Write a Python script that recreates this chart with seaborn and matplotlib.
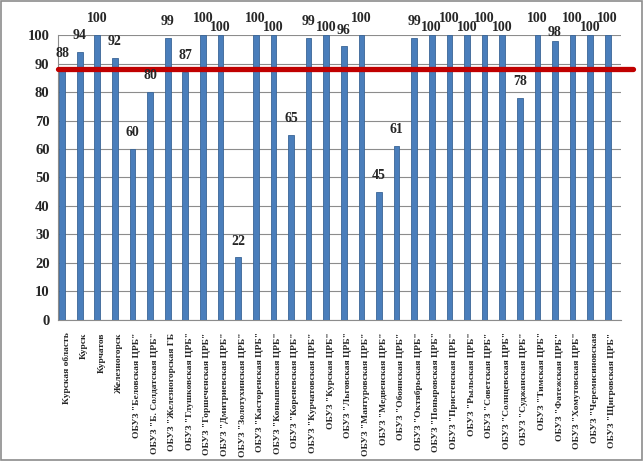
"""
Bar chart: percentage by district of Kursk region, with regional average line
"""
import numpy as np
import pandas as pd
import matplotlib
matplotlib.use("Agg")
import matplotlib.pyplot as plt
import seaborn as sns

# data
districts = [
    'Курская область', 'Курск', 'Курчатов', 'Железногорск',
    'ОБУЗ "Беловская ЦРБ"', 'ОБУЗ "Б. Солдатская ЦРБ"', 'ОБУЗ "Железногорская ГБ',
    'ОБУЗ "Глушковская ЦРБ"', 'ОБУЗ "Горшеченская ЦРБ"', 'ОБУЗ "Дмитриевская ЦРБ"',
    'ОБУЗ "Золотухинская ЦРБ"', 'ОБУЗ "Касторенская ЦРБ"', 'ОБУЗ "Конышевская ЦРБ"',
    'ОБУЗ "Кореневская ЦРБ"', 'ОБУЗ "Курчатовская ЦРБ"', 'ОБУЗ "Курская ЦРБ"',
    'ОБУЗ "Льговская ЦРБ"', 'ОБУЗ "Мантуровская ЦРБ"', 'ОБУЗ "Медвенская ЦРБ"',
    'ОБУЗ "Обоянская ЦРБ"', 'ОБУЗ "Октябрьская ЦРБ"', 'ОБУЗ "Поныровская ЦРБ"',
    'ОБУЗ "Пристенская ЦРБ"', 'ОБУЗ "Рыльская ЦРБ"', 'ОБУЗ "Советская ЦРБ"',
    'ОБУЗ "Солнцевская ЦРБ"', 'ОБУЗ "Суджанская ЦРБ"', 'ОБУЗ "Тимская ЦРБ"',
    'ОБУЗ "Фатежская ЦРБ"', 'ОБУЗ "Хомутовская ЦРБ"', 'ОБУЗ "Черемисиновская',
    'ОБУЗ "Щигровская ЦРБ"',
]
values = [88, 94, 100, 92, 60, 80, 99, 87, 100, 100, 22, 100, 100, 65, 99, 100,
          96, 100, 45, 61, 99, 100, 100, 100, 100, 100, 78, 100, 98, 100, 100, 100]
regional_level = 88
y_ticks = list(range(0, 101, 10))


def draw_chart():
    df = pd.DataFrame({"district": districts, "value": values})

    sns.set_style("white")
    plt.rcParams['font.family'] = ['Liberation Serif', 'DejaVu Serif']
    plt.rcParams['font.weight'] = 'bold'

    fig = plt.figure(figsize=(6.43, 4.61), dpi=100)
    ax = fig.add_axes([0.090, 0.306, 0.876, 0.618])

    sns.barplot(data=df, x="district", y="value", color="#4a7ebb",
                width=0.32, saturation=1, edgecolor="#3a6596", linewidth=0.6,
                ax=ax, zorder=3)

    # Excel puts the bar in the left part of each category slot
    for p in ax.patches:
        p.set_x(p.get_x() - 0.26)

    # value labels above the bars, staggered when neighbours are the same height
    raised = []
    for i, v in enumerate(values):
        up = True
        if i > 0 and abs(values[i - 1] - v) <= 3 and raised[i - 1]:
            up = False
        raised.append(up)
        dy = 7 if up else 1
        ax.annotate(str(v), (i - 0.26, v), xytext=(0, dy), textcoords="offset points",
                    ha="center", va="bottom", fontsize=10, fontweight="bold",
                    annotation_clip=False, zorder=5)

    # regional level line
    ax.axhline(regional_level, xmin=0, xmax=1.021, color="#c00000", lw=3.8,
               zorder=4, clip_on=False)

    ax.set_xlim(-0.5, len(values) - 0.5)
    ax.set_ylim(0, 100)
    ax.set_yticks(y_ticks)
    ax.tick_params(axis="y", labelsize=10.5, length=3, color="#888888", pad=3)
    ax.yaxis.grid(True, color="#8c8c8c", lw=0.8, zorder=0)

    ax.set_xticks(range(len(values)))
    ax.set_xticklabels(districts, rotation=90, fontsize=6.8, fontweight="bold")
    ax.tick_params(axis="x", length=0, pad=9)
    ax.set_xticks(np.arange(len(values)) + 0.5, minor=True)
    ax.tick_params(axis="x", which="minor", length=4, color="#888888")
    ax.set_xlabel("")
    ax.set_ylabel("")

    for side in ["top", "right"]:
        ax.spines[side].set_visible(False)
    for side in ["left", "bottom"]:
        ax.spines[side].set_color("#8c8c8c")

    # grey outer frame
    fig.patches.append(plt.Rectangle((0.002, 0.002), 0.996, 0.996, fill=False,
                                     edgecolor="#8c8c8c", lw=1.2,
                                     transform=fig.transFigure))

    fig.savefig("out.png", dpi=100)


def main():
    draw_chart()


if __name__ == "__main__":
    main()
